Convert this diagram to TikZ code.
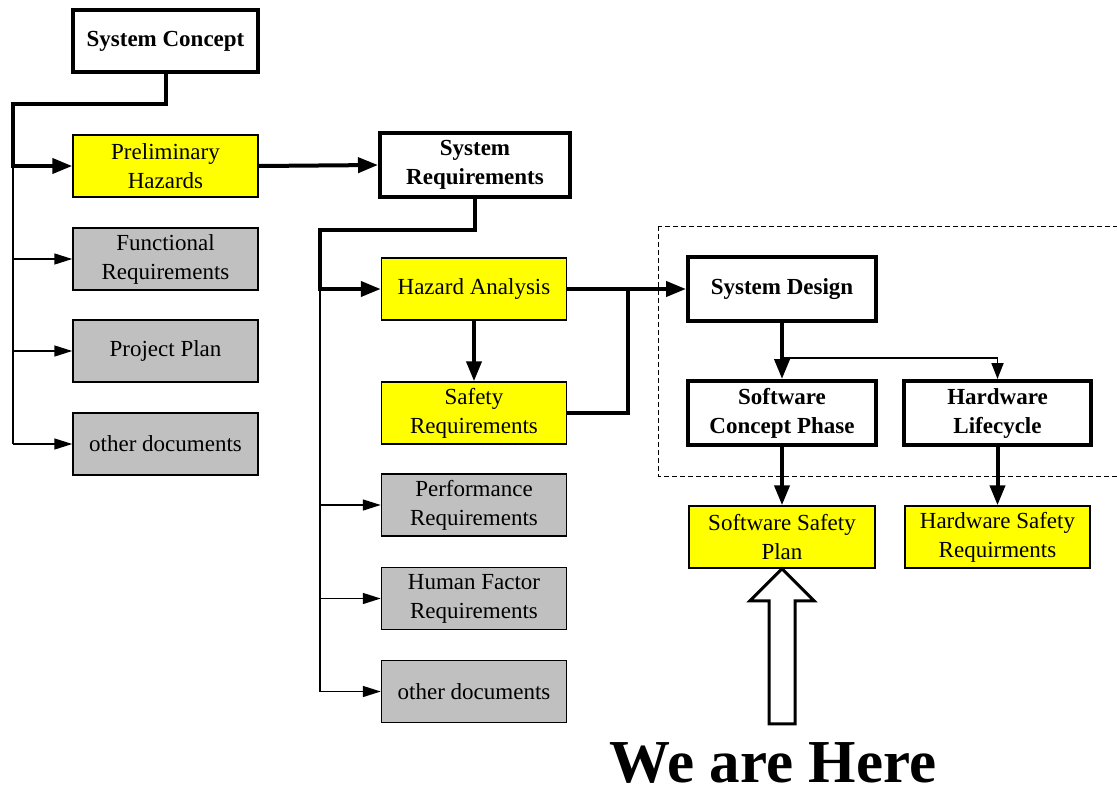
\documentclass[tikz,border=0pt]{standalone}
\usepackage{fontspec}
\setmainfont{Liberation Serif}
\usetikzlibrary{arrows.meta}
\definecolor{hazardyellow}{RGB}{255,255,0}
\definecolor{docgrey}{RGB}{192,192,192}
\begin{document}
\begin{tikzpicture}[x=1pt,y=-1pt,
  boxbase/.style={draw, inner sep=0pt, align=center,
    font=\fontsize{23}{29}\selectfont},
  phasebox/.style={boxbase, fill=white, line width=4pt,
    font=\fontsize{23}{29}\selectfont\bfseries},
  hazardbox/.style={boxbase, fill=hazardyellow, line width=1.5pt},
  docbox/.style={boxbase, fill=docgrey, line width=1.5pt},
  wide/.style={minimum width=185pt, minimum height=62pt},
  heavy/.style={line width=4pt, line join=miter,
    -{Triangle[length=20pt,width=15pt]}},
  heavyplain/.style={line width=4pt, line join=miter},
  light/.style={line width=1.5pt,
    -{Triangle[length=18pt,width=11pt]}},
  lightplain/.style={line width=1.5pt},
]
\useasboundingbox (0,0) rectangle (1117,790);

% design-phase frame
\draw[line width=1pt, dash pattern=on 5pt off 3pt] (658,226) rectangle (1130,476);

% system level
\node[phasebox, wide] (sc) at (165.5,41) {System Concept};
\node[hazardbox, wide] (ph) at (165.5,166) {Preliminary\\Hazards};
\node[docbox, wide] (fr) at (165.5,259) {Functional\\Requirements};
\node[docbox, wide] (pp) at (165.5,351) {Project Plan};
\node[docbox, wide] (od1) at (165.5,444) {other documents};

% requirements level
\node[phasebox, minimum width=190pt, minimum height=64pt] (sr) at (475,165) {System\\Requirements};
\node[hazardbox, wide] (ha) at (474,289) {Hazard Analysis};
\node[hazardbox, wide] (sfr) at (474,413) {Safety\\Requirements};
\node[docbox, wide] (pr) at (474,505) {Performance\\Requirements};
\node[docbox, wide] (hf) at (474,598.5) {Human Factor\\Requirements};
\node[docbox, wide] (od2) at (474,691.5) {other documents};

% design level
\node[phasebox, minimum width=188pt, minimum height=64pt] (sd) at (782,289) {System Design};
\node[phasebox, minimum width=188pt, minimum height=64pt] (scp) at (782,413) {Software\\Concept Phase};
\node[phasebox, minimum width=187pt, minimum height=64pt] (hl) at (997.5,413) {Hardware\\Lifecycle};
\node[hazardbox, minimum width=186pt, minimum height=62pt] (ssp) at (782,537) {Software Safety\\Plan};
\node[hazardbox, wide] (hsr) at (997.5,537) {Hardware Safety\\Requirments};

% junction points
\coordinate (busA) at (13,166);
\coordinate (busB) at (320,289);
\coordinate (merge) at (628,289);
\coordinate (split) at (782,358);

% system concept branch
\draw[heavy] (sc.south) -- ++(0,30) -| (busA) -- (ph.west);
\draw[lightplain] (busA) -- (busA |- od1.west);
\draw[light] (busA |- fr.west) -- (fr.west);
\draw[light] (busA |- pp.west) -- (pp.west);
\draw[light] (busA |- od1.west) -- (od1.west);

\draw[heavy] (ph.east) -- (sr.west);

% requirements branch
\draw[heavy] (sr.south) -- ++(0,31) -| (busB) -- (ha.west);
\draw[lightplain] (busB) -- (busB |- od2.west);
\draw[light] (busB |- pr.west) -- (pr.west);
\draw[light] (busB |- hf.west) -- (hf.west);
\draw[light] (busB |- od2.west) -- (od2.west);

\draw[heavy] (ha.south) -- (sfr.north);
\draw[heavy] (ha.east) -- (sd.west);
\draw[heavyplain] (sfr.east) -| (merge);

% design branch
\draw[heavy] (sd.south) -- (scp.north);
\draw[line width=1.8pt, -{Triangle[length=16pt,width=12pt]}] (split) -| (hl.north);
\draw[heavy] (scp.south) -- (ssp.north);
\draw[heavy] (hl.south) -- (hsr.north);

% pointer to the current step
\draw[line width=3pt, fill=white, line join=miter]
  (ssp.south) -- ++(32,32) -- ++(-19,0) -- ++(0,123) -- ++(-26,0)
  -- ++(0,-123) -- ++(-19,0) -- cycle;
\node[anchor=base, inner sep=0pt, text depth=0pt,
  font=\fontsize{61}{61}\selectfont\bfseries]
  (here) at (773,782) {We are Here};
\end{tikzpicture}
\end{document}
